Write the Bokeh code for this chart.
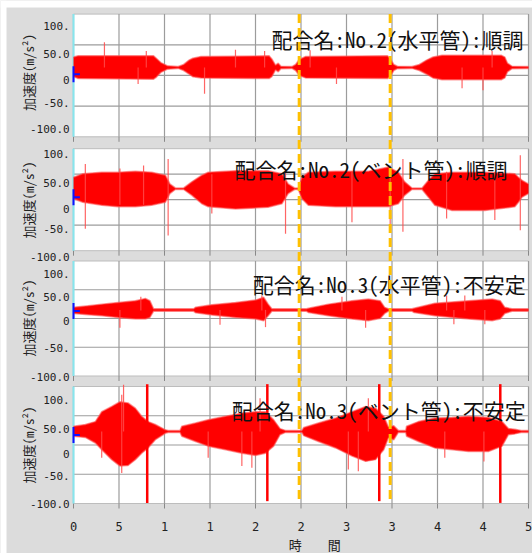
import math
from bokeh.plotting import figure
from bokeh.models import Range1d
from bokeh.core.properties import value
from bokeh.embed import file_html
from bokeh.resources import INLINE

# ---------------- data ----------------
X_TICKS = [0, 5, 10, 15, 20, 25, 30, 35, 40, 45, 50]
X_TICK_LABELS = ["0", "5", "1", "1", "2", "2", "3", "3", "4", "4", "5"]
Y_TICK_LABELS = ["100.", "50.0", "0", "-50.", "-100.0"]
Y_GRID = [-50, 0, 50]
X_TITLE = "時\u3000\u3000間"
Y_TITLE = "加速度(m/s²)"
TITLES = ["配合名:No.2(水平管):順調",
          "配合名:No.2(ベント管):順調",
          "配合名:No.3(水平管):不安定",
          "配合名:No.3(ベント管):不安定"]
MARKER_TIMES = [24.8, 34.8]
CURSOR_V = [2, 5, 13, 17]

# panel 1 envelope (time s, upper / lower m/s^2)
P1_T = [0, 0.5, 8.8, 9.1, 9.6, 10.3, 11.5, 12.1, 12.7, 13.1, 14.0, 21.5, 21.8, 22.2, 22.5, 22.8, 24.0,
        24.4, 24.8, 25.5, 34.5, 34.8, 35.2, 35.6, 37.2, 38.0, 38.8, 39.5, 40.5, 47.0, 47.4, 47.7, 48.2, 50.0]
P1_UP = [30, 32, 32, 28, 21, 16, 14.5, 18, 25, 28, 31, 32, 27, 17, 20, 15, 14.5,
         18, 26, 31, 32, 28, 18, 15, 14.5, 18, 25, 30, 33, 33, 30, 20, 15, 14.5]
P1_LO = [-2, -5, -6, -3, 5, 10, 11.5, 8, 2, -2, -4, -5, -2, 9, 6, 11, 11.5,
         8, 0, -4, -5, -2, 8, 11, 11.5, 8, 2, -4, -7, -7, -4, 6, 11, 11.5]
P1_SPK_T = [3.4, 7.1, 8.0, 14.4, 17.8, 21.0, 26.0, 28.9, 42.7, 45.0, 46.0]
P1_SPK_HI = [54, 13, 40, 13, 42, 40, 41, 13, 13, 13, 40]
P1_SPK_LO = [13, -14, 13, -30, 13, 13, 13, -14, -21, -24, 13]

# panel 2
P2_T = [0, 1.0, 3.1, 4.9, 6.8, 8.6, 10.1, 10.6, 11.2, 12.1, 13.0, 14.1, 14.8, 17.8, 21.4, 22.9, 23.6, 24.3,
        24.7, 25.1, 25.8, 28.8, 32.4, 34.6, 35.7, 36.4, 37.2, 38.3, 39.0, 39.7, 41.6, 45.2, 48.5, 48.9, 49.3, 50]
P2_UP = [44, 51, 54, 54, 56, 54, 48, 31, 23, 23, 35, 48, 54, 57, 57, 51, 31, 23,
         23, 44, 54, 56, 56, 64, 54, 35, 23, 23, 38, 51, 54, 54, 51, 44, 38, 31]
P2_LO = [2, -5, -11, -14, -14, -11, -5, 12, 20, 20, 8.5, -8, -14, -18, -15, -8, 12, 20,
         20, 2, -11, -14, -14, -14, -8, 8.5, 20, 20, 5, -11, -21, -21, -14, -5, 5, 12]
P2_SPK_T = [1.3, 5.1, 7.7, 10.4, 15.2, 23.3, 30.6, 34.8, 36.2, 41.0, 46.3, 49.1]
P2_SPK_HI = [70, 61, 67, 80, 50, 54, 55, 67, 80, 55, 55, 87]
P2_SPK_LO = [-57, -10, -10, -70, -27, -67, -44, -60, -63, -37, -40, -60]

# panel 3
P3_T = [0, 1.6, 3.1, 4.9, 6.8, 7.9, 8.4, 8.8, 13.2, 13.4, 15.2, 17.8, 20.0, 20.9, 21.4, 21.8, 25.6,
        25.8, 28.0, 30.6, 32.4, 33.7, 34.2, 34.6, 37.2, 37.4, 39.7, 43.4, 46.0, 46.9, 47.4, 48.2, 50]
P3_UP = [19.4, 22, 25, 28, 31, 35, 31, 17, 17, 19.4, 24, 28, 32, 37, 25, 17, 17,
         18, 25, 31, 34, 31, 19.4, 17, 17, 18, 26.5, 31, 34, 31, 19.4, 17, 17]
P3_LO = [8.8, 6.5, 4.7, 1.8, -1, -1, 1.8, 12.5, 12.5, 10, 6, 1.8, -1, -4, 4.7, 12.5, 12.5,
         10.5, 4.7, -1, -4, 0, 8.8, 12.5, 12.5, 10.5, 4.7, -1, -4, -1, 8.8, 12.5, 12.5]
P3_SPK_T = [5.1, 7.4, 16.1, 20.7, 21.1, 29.5, 32.1, 41.0, 41.8, 43.0, 45.2]
P3_SPK_HI = [15, 38, 15, 40, 15, 38, 15, 40, 15, 40, 15]
P3_SPK_LO = [-16, 14, -11, 14, -15, 14, -16, 14, -10, 14, -10]

# panel 4
P4_T = [0, 1.3, 2.4, 3.1, 4.2, 5.1, 6.0, 6.8, 7.5, 8.2, 9.0, 10.1, 10.4, 11.7, 11.9, 13.4, 14.8, 16.7,
        18.5, 20.0, 21.1, 22.0, 22.7, 23.3, 25.1, 25.3, 26.9, 28.8, 30.6, 32.1, 33.2, 34.1, 34.6, 35.2,
        35.7, 36.5, 36.6, 37.9, 39.7, 41.6, 43.4, 45.6, 47.1, 47.8, 48.5, 49.2, 50]
P4_UP = [32, 35, 40, 57, 66, 74, 72, 63, 49, 40, 35, 26, 25, 25, 32, 37.5, 43, 49,
         54.5, 57, 57, 43, 28, 25, 25, 30, 37.5, 46, 57, 66, 63, 49, 31, 33,
         25, 25, 32, 40, 46, 47, 49, 47, 40, 28, 27, 25, 25]
P4_LO = [15, 13, 3.4, -8, -25, -36, -35, -25, -14, -5, 9, 20, 21.5, 21.5, 15, 6, -2, -8,
         -14, -18, -14, -2, 17.6, 21.5, 21.5, 16, 6, -5, -19, -28, -25, -8, 12, 9,
         21.5, 21.5, 15, 6, -5, -8, -11, -11, -2, 17.6, 19, 21.5, 21.5]
P4_SPK_T = [3.1, 5.3, 5.5, 14.8, 18.5, 19.6, 20.5, 30.2, 31.3, 32.4, 40.8, 45.1]
P4_SPK_HI = [23, 86, 103, 23, 23, 23, 80, 23, 23, 80, 23, 23]
P4_SPK_LO = [-22, -48, 23, -22, -36, -39, 23, -42, -45, 23, -22, -28]
P4_BIG_T = [8.1, 21.3, 33.6, 46.9]
P4_BIG_HI = [104, 104, 104, 104]
P4_BIG_LO = [-99, -96, -96, -99]

PANELS = [
    (P1_T, P1_UP, P1_LO, P1_SPK_T, P1_SPK_HI, P1_SPK_LO),
    (P2_T, P2_UP, P2_LO, P2_SPK_T, P2_SPK_HI, P2_SPK_LO),
    (P3_T, P3_UP, P3_LO, P3_SPK_T, P3_SPK_HI, P3_SPK_LO),
    (P4_T, P4_UP, P4_LO, P4_SPK_T, P4_SPK_HI, P4_SPK_LO),
]

# ---------------- layout (pixels from the top-left of the picture) ----------------
W, H = 532, 553
LEFT = 73                        # x of time 0
PX_PER_S = 9.1
MARGIN_TOP, MARGIN_LEFT = 7, 6   # white strip of the original screenshot
PANEL_TB = [(13.6, 136.3), (148.2, 250.2), (260.5, 375.5), (386.0, 503.0)]
Y_LABEL_PX = [[25, 53, 79, 102, 128], [153, 182, 208, 228, 256],
              [273, 296, 320, 347, 376], [399, 428, 453, 475, 503]]
Y_LABEL_X = -0.42
Y_TITLE_PX = [72, 199.5, 317.5, 444.5]
Y_TITLE_X = -4.95
X_LABEL_PX = 526
X_TITLE_PX = 544
X_TITLE_X = 26.5
TITLE_X = [21.76, 17.7, 19.7, 17.4]
TITLE_V = 60

BG = "#dcdcdc"
GRID = "#9c9c9c"
MONO = "DejaVu Sans Mono"
CJK = "Noto Sans Mono CJK JP"

X0, X1 = -LEFT / PX_PER_S, (W - LEFT) / PX_PER_S
p = figure(width=W, height=H, output_backend="svg", toolbar_location=None,
           x_range=Range1d(X0, X1), y_range=Range1d(H, 0),
           min_border=0, background_fill_color=BG, border_fill_color=BG,
           outline_line_color=None, x_axis_location=None, y_axis_location=None)
p.grid.visible = False

ranges = {}
for i, (t, b) in enumerate(PANEL_TB):
    k = 200.0 / (b - t)
    ranges[f"p{i}"] = Range1d(start=-100 - (H - b) * k, end=100 + t * k)
p.extra_y_ranges = ranges

# white border strips of the screenshot (top and left)
p.quad(left=[X0, X0], right=[X1, X0 + MARGIN_LEFT / PX_PER_S], bottom=[MARGIN_TOP, H],
       top=[0, 0], fill_color="white", line_color=None)

n = len(X_TICKS)
for i, (T, UP, LO, ST, SH, SL) in enumerate(PANELS):
    rn = f"p{i}"
    t_px, b_px = PANEL_TB[i]
    k = 200.0 / (b_px - t_px)
    p.quad(left=[0], right=[50], bottom=[-100], top=[100], fill_color="white",
           line_color="#bdbdbd", line_width=1, y_range_name=rn)
    p.segment(x0=X_TICKS, y0=[-100] * n, x1=X_TICKS, y1=[100] * n,
              line_color=GRID, line_width=1.2, y_range_name=rn)
    p.segment(x0=[0] * 3, y0=Y_GRID, x1=[50] * 3, y1=Y_GRID,
              line_color=GRID, line_width=1.2, y_range_name=rn)
    p.segment(x0=X_TICKS, y0=[-100] * n, x1=X_TICKS, y1=[-100 - 5 * k] * n,
              line_color="#888888", line_width=1, y_range_name=rn)
    p.segment(x0=[0], y0=[-100], x1=[0], y1=[100], line_color="#86e6ee",
              line_width=2, y_range_name=rn)
    # signal envelope
    p.varea(x=T, y1=LO, y2=UP, fill_color="#ff0000", y_range_name=rn)
    p.line(T, UP, line_color="#ff5a5a", line_width=1.5, line_alpha=0.6, y_range_name=rn)
    p.line(T, LO, line_color="#ff5a5a", line_width=1.5, line_alpha=0.6, y_range_name=rn)
    p.segment(x0=ST, y0=SL, x1=ST, y1=SH, line_color="#ff4a4a", line_width=1.2,
              line_alpha=0.85, y_range_name=rn)
    if i == 3:
        p.segment(x0=P4_BIG_T, y0=P4_BIG_LO, x1=P4_BIG_T, y1=P4_BIG_HI,
                  line_color="#ff0000", line_width=2.5, y_range_name=rn)
    # cursor marker (right half of a cross on the panel edge)
    cv = CURSOR_V[i]
    p.segment(x0=[0, 0], y0=[cv - 8 * k, cv], x1=[0, 0.7], y1=[cv + 8 * k, cv],
              line_color="#1010ff", line_width=2, y_range_name=rn)
    # panel caption
    p.text(x=[TITLE_X[i]], y=[TITLE_V], text=[TITLES[i]], text_font=value(CJK),
           text_font_size="21px", text_align="left", text_baseline="middle",
           text_color="#111111", y_range_name=rn)
    # y tick labels
    p.text(x=[Y_LABEL_X] * 5, y=Y_LABEL_PX[i], text=Y_TICK_LABELS, text_font=value(MONO),
           text_font_size="11px", text_align="right", text_baseline="middle",
           text_color="#222222")
    # y title
    p.text(x=[Y_TITLE_X], y=[Y_TITLE_PX[i]], text=[Y_TITLE], angle=math.pi / 2,
           text_font=value(CJK), text_font_size="13px", text_align="center",
           text_baseline="middle", text_color="#222222")

# x tick labels and title
p.text(x=X_TICKS, y=[X_LABEL_PX] * n, text=X_TICK_LABELS, text_font=value(MONO),
       text_font_size="12px", text_align="center", text_baseline="middle",
       text_color="#222222")
p.text(x=[X_TITLE_X], y=[X_TITLE_PX], text=[X_TITLE], text_font=value(CJK),
       text_font_size="13px", text_align="center", text_baseline="middle",
       text_color="#222222")

for t in MARKER_TIMES:
    p.segment(x0=[t], y0=[PANEL_TB[0][0]], x1=[t], y1=[PANEL_TB[3][1]],
              line_color="#ffc000", line_width=3, line_dash="9 5")

open("out.html", "w").write(file_html(p, INLINE))
